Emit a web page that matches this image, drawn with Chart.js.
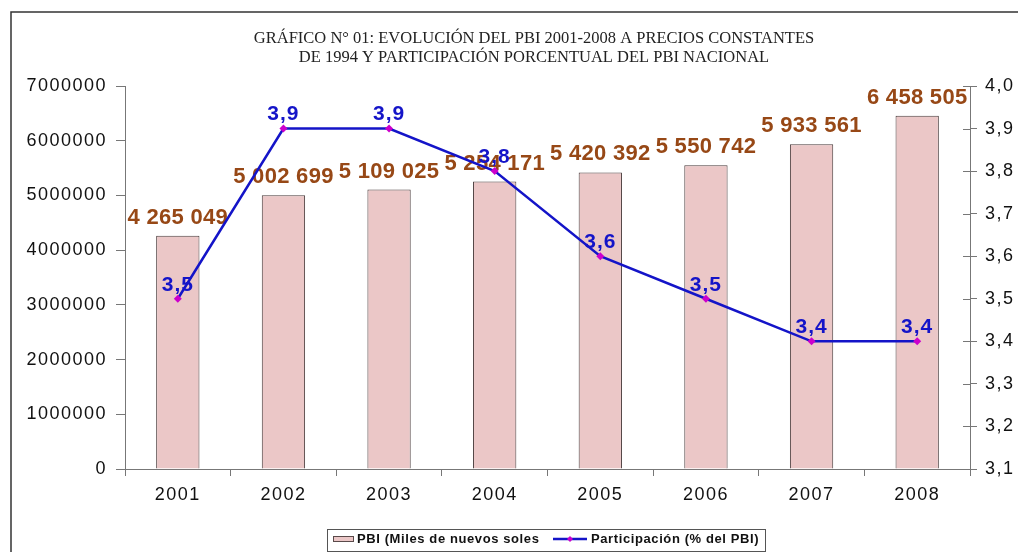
<!DOCTYPE html>
<html>
<head>
<meta charset="utf-8">
<script src="https://cdn.jsdelivr.net/npm/chart.js@4.4.1/dist/chart.umd.min.js"></script>
<style>
  html, body { margin: 0; padding: 0; background: #fff; }
  #wrap { width: 1018px; height: 552px; }
</style>
</head>
<body>
<div id="wrap"><canvas id="myChart" width="1018" height="552"></canvas></div>
<script>
// data
const years = ['2001', '2002', '2003', '2004', '2005', '2006', '2007', '2008'];
const pbi = [4265049, 5002699, 5109025, 5254171, 5420392, 5550742, 5933561, 6458505];
const participacion = [3.5, 3.9, 3.9, 3.8, 3.6, 3.5, 3.4, 3.4];
const titleLines = [
    'GRÁFICO N° 01: EVOLUCIÓN DEL PBI 2001-2008 A PRECIOS CONSTANTES',
    'DE 1994 Y PARTICIPACIÓN PORCENTUAL DEL PBI NACIONAL'
];

const BROWN = '#974816';
const BLUE = '#1414c8';

const spaced = (v) => v.toString().replace(/\B(?=(\d{3})+(?!\d))/g, ' ');
const comma = (v) => v.toFixed(1).replace('.', ',');

// frame, title, legend and value labels
const decor = {
    id: 'decor',
    beforeDraw(chart) {
        const c = chart.ctx;
        c.save();
        c.fillStyle = '#fff';
        c.fillRect(0, 0, chart.width, chart.height);
        c.strokeStyle = '#333';
        c.lineWidth = 1.5;
        c.beginPath();
        c.moveTo(11, chart.height);
        c.lineTo(11, 12);
        c.lineTo(chart.width, 12);
        c.stroke();

        c.fillStyle = '#222';
        c.font = '16.5px "Liberation Serif"';
        c.textAlign = 'center';
        c.textBaseline = 'middle';
        c.fillText(titleLines[0], 534, 39);
        c.fillText(titleLines[1], 534, 58);

        // legend
        const ds = chart.data.datasets;
        c.strokeStyle = '#555';
        c.lineWidth = 1;
        c.strokeRect(327.5, 529.5, 438, 22);
        c.fillStyle = '#ebc7c7';
        c.fillRect(333, 536, 21, 6);
        c.strokeStyle = '#5a4a4a';
        c.strokeRect(333.5, 536.5, 20, 5);
        c.font = 'bold 13px "Liberation Sans"';
        c.letterSpacing = '0.6px';
        c.textAlign = 'left';
        c.fillStyle = '#111';
        c.fillText(ds[1].label, 357, 539);
        c.strokeStyle = BLUE;
        c.lineWidth = 2.5;
        c.beginPath();
        c.moveTo(553, 539);
        c.lineTo(587, 539);
        c.stroke();
        c.fillStyle = '#cc00cc';
        c.beginPath();
        c.moveTo(570, 536); c.lineTo(573, 539); c.lineTo(570, 542); c.lineTo(567, 539);
        c.closePath();
        c.fill();
        c.fillStyle = '#111';
        c.fillText(ds[0].label, 591, 539);
        c.restore();
        c.letterSpacing = '1.5px';
    },
    afterDatasetDraw(chart, args) {
        const c = chart.ctx;
        const ds = chart.data.datasets[args.index];
        c.save();
        c.textAlign = 'center';
        c.textBaseline = 'middle';
        if (ds.type === 'bar') {
            c.font = 'bold 22px "Liberation Sans"';
            c.letterSpacing = '0.3px';
            c.fillStyle = BROWN;
            args.meta.data.forEach((el, i) => {
                c.fillText(spaced(ds.data[i]), el.x, el.y - 18);
            });
        } else {
            c.font = 'bold 21px "Liberation Sans"';
            c.letterSpacing = '1px';
            c.fillStyle = BLUE;
            args.meta.data.forEach((el, i) => {
                c.fillText(comma(ds.data[i]), el.x, el.y - 14);
            });
        }
        c.restore();
    }
};

// small ticks crossing the right axis
const rightTicks = {
    id: 'rightTicks',
    afterDraw(chart) {
        const s = chart.scales.y1;
        const c = chart.ctx;
        c.save();
        c.strokeStyle = '#777';
        c.lineWidth = 1;
        s.ticks.forEach((t, i) => {
            const y = Math.round(s.getPixelForTick(i)) + 0.5;
            c.beginPath();
            c.moveTo(s.left - 7, y);
            c.lineTo(s.left, y);
            c.stroke();
        });
        c.restore();
    }
};

const tickFont = { family: '"Liberation Sans"', size: 18 };

var ctx = document.getElementById('myChart').getContext('2d');
new Chart(ctx, {
    data: {
        labels: years,
        datasets: [{
            type: 'line',
            label: 'Participación (% del PBI)',
            data: participacion,
            yAxisID: 'y1',
            borderColor: BLUE,
            borderWidth: 2.5,
            pointStyle: 'rectRot',
            pointRadius: 4,
            pointBackgroundColor: '#cc00cc',
            pointBorderColor: '#cc00cc',
            pointBorderWidth: 0,
            tension: 0,
            order: 1
        }, {
            type: 'bar',
            label: 'PBI (Miles de nuevos soles',
            data: pbi,
            yAxisID: 'y',
            backgroundColor: '#ebc7c7',
            borderColor: '#4a3c3c',
            borderWidth: 1,
            barPercentage: 0.41,
            categoryPercentage: 1,
            order: 2
        }]
    },
    options: {
        responsive: false,
        animation: false,
        layout: { padding: { top: 86, left: 0, right: 0, bottom: 0 } },
        plugins: {
            legend: { display: false },
            title: { display: false },
            tooltip: { enabled: false }
        },
        scales: {
            x: {
                offset: true,
                grid: { offset: true, drawOnChartArea: false, tickLength: 7, color: '#777' },
                border: { color: '#777' },
                ticks: { color: '#111', font: tickFont, padding: 8 },
                afterFit: (s) => { s.height = 83; }
            },
            y: {
                position: 'left',
                min: 0,
                max: 7000000,
                grid: { drawOnChartArea: false, tickLength: 9, color: '#777' },
                border: { color: '#777' },
                ticks: {
                    stepSize: 1000000,
                    color: '#111',
                    font: tickFont,
                    padding: 9,
                    callback: (v) => String(v)
                },
                afterFit: (s) => { s.width = 125; }
            },
            y1: {
                position: 'right',
                min: 3.1,
                max: 4.0,
                grid: { drawOnChartArea: false, tickLength: 7, color: '#777' },
                border: { color: '#777' },
                ticks: {
                    stepSize: 0.1,
                    color: '#111',
                    font: tickFont,
                    padding: 8,
                    callback: (v) => comma(v)
                },
                afterFit: (s) => { s.width = 48; }
            }
        }
    },
    plugins: [decor, rightTicks]
});
</script>
</body>
</html>
